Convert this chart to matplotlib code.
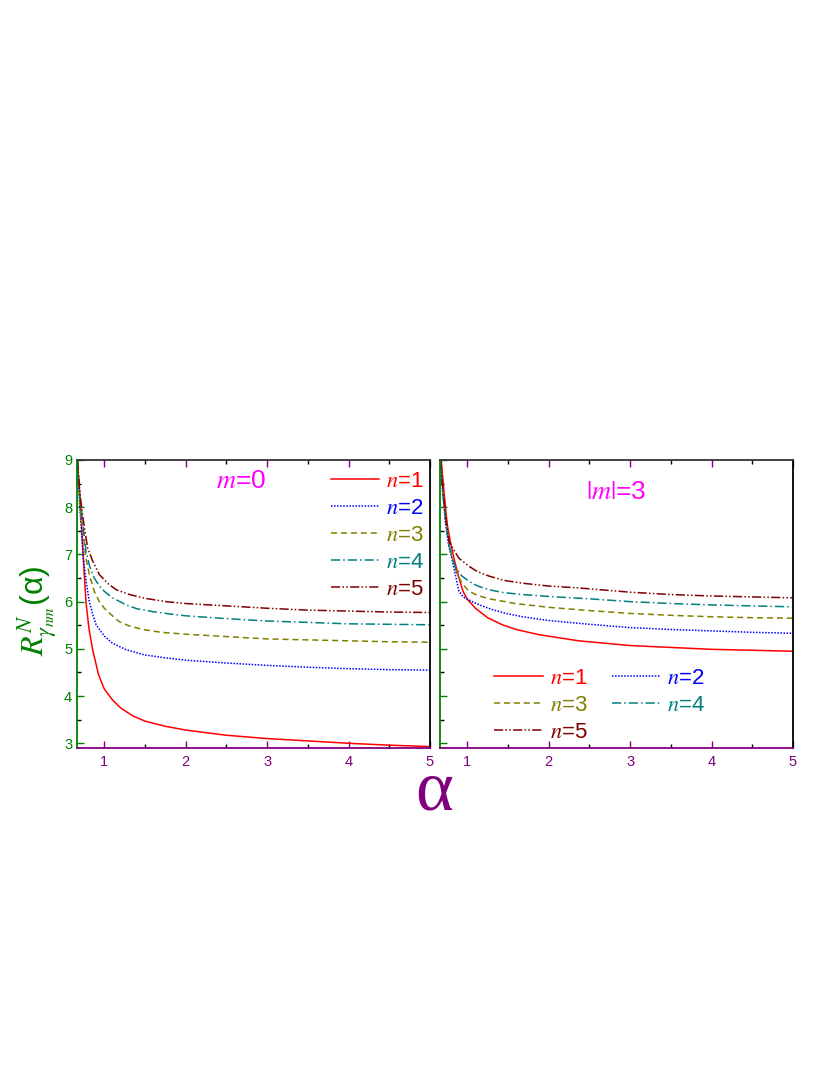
import matplotlib
matplotlib.use("Agg")
import matplotlib.pyplot as plt
from matplotlib.ticker import MultipleLocator

plt.rcParams['font.family'] = ['Liberation Sans', 'DejaVu Sans']
plt.rcParams['mathtext.fontset'] = 'stix'

# values, one (alpha, R) list pair per curve

# m = 0
m0_n1_a = [0.67, 0.69, 0.71, 0.725, 0.75, 0.775, 0.81, 0.857, 0.93, 1.0, 1.1, 1.2, 1.35, 1.5, 1.75, 2.0, 2.5, 3.0, 3.5, 4.0, 4.5, 5.0]
m0_n1_r = [9.0, 8.5, 8.0, 7.5, 6.7, 6.0, 5.45, 4.98, 4.45, 4.15, 3.92, 3.75, 3.58, 3.47, 3.36, 3.28, 3.17, 3.10, 3.05, 3.0, 2.96, 2.93]
m0_n2_a = [0.67, 0.70, 0.742, 0.78, 0.816, 0.86, 0.9, 1.0, 1.1, 1.27, 1.5, 1.75, 2.0, 2.5, 3.0, 3.5, 4.0, 4.5, 5.0]
m0_n2_r = [9.0, 8.0, 6.92, 6.4, 6.0, 5.72, 5.51, 5.27, 5.12, 4.98, 4.87, 4.81, 4.76, 4.70, 4.65, 4.61, 4.58, 4.56, 4.55]
m0_n3_a = [0.67, 0.70, 0.74, 0.775, 0.82, 0.877, 0.94, 1.0, 1.1, 1.18, 1.3, 1.47, 1.7, 2.0, 2.5, 3.0, 3.5, 4.0, 4.5, 5.0]
m0_n3_r = [9.0, 8.0, 7.45, 6.92, 6.55, 6.22, 6.0, 5.86, 5.70, 5.58, 5.49, 5.41, 5.35, 5.31, 5.26, 5.21, 5.19, 5.17, 5.15, 5.14]
m0_n4_a = [0.67, 0.70, 0.74, 0.775, 0.82, 0.877, 0.94, 1.0, 1.1, 1.27, 1.4, 1.59, 1.8, 2.0, 2.5, 3.0, 3.5, 4.0, 4.5, 5.0]
m0_n4_r = [9.0, 8.2, 7.6, 7.07, 6.75, 6.50, 6.33, 6.22, 6.08, 5.93, 5.85, 5.79, 5.74, 5.70, 5.64, 5.59, 5.56, 5.53, 5.52, 5.51]
m0_n5_a = [0.67, 0.70, 0.74, 0.795, 0.86, 0.94, 1.06, 1.15, 1.31, 1.5, 1.76, 2.0, 2.5, 3.0, 3.5, 4.0, 4.5, 5.0]
m0_n5_r = [9.0, 8.3, 7.75, 7.14, 6.85, 6.57, 6.36, 6.25, 6.15, 6.07, 6.0, 5.96, 5.91, 5.86, 5.82, 5.80, 5.78, 5.77]

# |m| = 3
m3_n1_a = [0.68, 0.713, 0.754, 0.80, 0.836, 0.89, 0.947, 1.0, 1.1, 1.25, 1.43, 1.6, 1.88, 2.37, 3.0, 3.5, 4.0, 4.5, 5.0]
m3_n1_r = [9.0, 8.34, 7.63, 7.2, 6.92, 6.55, 6.22, 6.05, 5.86, 5.66, 5.51, 5.41, 5.30, 5.17, 5.07, 5.03, 4.99, 4.97, 4.95]
m3_n2_a = [0.67, 0.70, 0.73, 0.77, 0.81, 0.85, 0.898, 0.95, 1.06, 1.15, 1.31, 1.5, 1.68, 2.0, 2.5, 3.0, 3.5, 4.0, 4.5, 5.0]
m3_n2_r = [9.0, 8.3, 7.7, 7.2, 6.92, 6.6, 6.22, 6.1, 6.0, 5.93, 5.83, 5.74, 5.68, 5.60, 5.52, 5.45, 5.41, 5.38, 5.35, 5.33]
m3_n3_a = [0.67, 0.70, 0.74, 0.775, 0.82, 0.877, 0.94, 1.02, 1.13, 1.27, 1.59, 2.0, 2.5, 3.0, 3.5, 4.0, 4.5, 5.0]
m3_n3_r = [9.0, 8.3, 7.75, 7.28, 6.9, 6.57, 6.38, 6.22, 6.13, 6.06, 5.96, 5.88, 5.81, 5.75, 5.71, 5.68, 5.66, 5.65]
m3_n4_a = [0.67, 0.70, 0.735, 0.766, 0.81, 0.857, 0.93, 1.02, 1.13, 1.27, 1.45, 1.68, 2.0, 2.5, 3.0, 3.5, 4.0, 4.5, 5.0]
m3_n4_r = [9.0, 8.3, 7.7, 7.28, 6.95, 6.71, 6.55, 6.43, 6.33, 6.25, 6.19, 6.15, 6.11, 6.06, 6.0, 5.96, 5.93, 5.91, 5.89]
m3_n5_a = [0.67, 0.70, 0.735, 0.775, 0.84, 0.898, 1.02, 1.13, 1.27, 1.45, 1.68, 2.0, 2.37, 3.0, 3.5, 4.0, 4.5, 5.0]
m3_n5_r = [9.0, 8.4, 7.8, 7.28, 7.08, 6.92, 6.75, 6.63, 6.54, 6.45, 6.39, 6.33, 6.29, 6.20, 6.15, 6.12, 6.10, 6.08]

labels = ['1', '2', '3', '4', '5']
colors = ['#FF0000', '#0000FF', '#808000', '#008080', '#800000']
styles = ['-', (0, (1, 1)), (0, (4, 2.5)), (0, (6, 2, 1, 2)), (0, (6, 1.5, 1, 1.5, 1, 1.5))]

green = '#008000'
purple = '#800080'

fig = plt.figure(figsize=(8.3, 10.75), dpi=100)
W, H = 830, 1075


def box(x0, x1, y0, y1):
    # pixel box (from top-left) -> figure fraction rect
    return [x0 / W, 1 - y1 / H, (x1 - x0) / W, (y1 - y0) / H]


def fpt(x, y):
    return (x / W, 1 - y / H)


ax1 = fig.add_axes(box(77, 430, 460, 748))
ax2 = fig.add_axes(box(440, 793, 460, 748))

panels = [(ax1, [(m0_n1_a, m0_n1_r), (m0_n2_a, m0_n2_r), (m0_n3_a, m0_n3_r),
                 (m0_n4_a, m0_n4_r), (m0_n5_a, m0_n5_r)]),
          (ax2, [(m3_n1_a, m3_n1_r), (m3_n2_a, m3_n2_r), (m3_n3_a, m3_n3_r),
                 (m3_n4_a, m3_n4_r), (m3_n5_a, m3_n5_r)])]

for ax, series in panels:
    for (xs, ys), lab, c, ls in zip(series, labels, colors, styles):
        ax.plot(xs, ys, color=c, linestyle=ls, lw=1.1, label=r'$n$=' + lab)
    ax.set_xlim(0.665, 5)
    ax.set_ylim(2.9, 9)
    ax.xaxis.set_major_locator(MultipleLocator(1))
    ax.xaxis.set_minor_locator(MultipleLocator(0.5))
    ax.yaxis.set_major_locator(MultipleLocator(1))
    ax.yaxis.set_minor_locator(MultipleLocator(0.5))
    ax.tick_params(axis='both', which='both', direction='in', top=True)
    ax.tick_params(axis='both', which='major', length=5, width=1)
    ax.tick_params(axis='both', which='minor', length=3, width=1)
    ax.tick_params(axis='x', colors=purple, labelsize=10.5, pad=5)
    ax.tick_params(axis='y', colors=green, labelsize=10.5)
    # top ticks in grey
    for t in ax.xaxis.get_ticklines(minor=False)[1::2] + ax.xaxis.get_ticklines(minor=True)[1::2]:
        t.set_color('#777777')
    ax.spines['left'].set_color(green)
    ax.spines['bottom'].set_color(purple)
    ax.spines['top'].set_color('#333333')
    ax.spines['right'].set_color('black')
    for s in ax.spines.values():
        s.set_linewidth(1.3)

ax2.tick_params(axis='y', labelleft=False)

fig.text(*fpt(241, 481), r'$m$=0', color='magenta', fontsize=19,
         ha='center', va='center')
fig.text(*fpt(616, 492), r'$|m|$=3', color='magenta', fontsize=19,
         ha='center', va='center')

leg_kw = dict(frameon=False, fontsize=16, labelcolor='linecolor',
              handlelength=2.2, handletextpad=0.3, labelspacing=0.27,
              borderpad=0, borderaxespad=0, bbox_transform=fig.transFigure)

ax1.legend(loc='upper right', bbox_to_anchor=fpt(424, 471), **leg_kw)

# row-wise order: n=1 n=2 / n=3 n=4 / n=5
h, l = ax2.get_legend_handles_labels()
order = [0, 2, 4, 1, 3]
ax2.legend([h[i] for i in order], [l[i] for i in order], loc='upper left',
           bbox_to_anchor=fpt(494, 668), ncol=2, columnspacing=1.1, **leg_kw)

fig.text(*fpt(37, 611), r'$R^{N}_{\gamma_{nm}}$(α)', rotation=90,
         color=green, fontsize=23, ha='center', va='center')
# alpha label: baseline placed so the glyph sits between 773 and 809 px
fig.text(*fpt(434, 809), 'α', color=purple, fontsize=52,
         family='Liberation Serif', ha='center', va='baseline')

fig.savefig('out.png', dpi=100)
